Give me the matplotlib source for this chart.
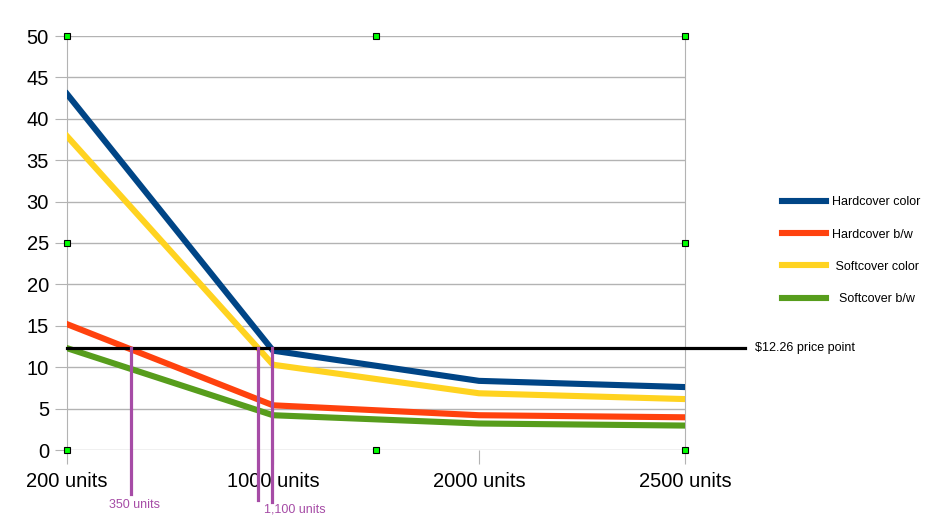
import matplotlib.pyplot as plt
from matplotlib.lines import Line2D

plt.rcParams['font.family'] = ['Liberation Sans', 'DejaVu Sans']

categories = ['200 units', '1000 units', '2000 units', '2500 units']
hardcover_color = [43.0, 12.0, 8.35, 7.6]
hardcover_bw = [15.2, 5.4, 4.2, 3.95]
softcover_color = [37.9, 10.3, 6.85, 6.15]
softcover_bw = [12.3, 4.2, 3.2, 2.95]
price_point = 12.26
price_label = '$12.26 price point'
# break-even marks (category positions) and their labels
marks = [0.31, 0.927, 0.995]
mark_labels = ['350 units', '1,100 units']

series = [
    ('Hardcover color', hardcover_color, '#004586'),
    ('Hardcover b/w', hardcover_bw, '#ff420e'),
    (' Softcover color', softcover_color, '#ffd320'),
    ('  Softcover b/w', softcover_bw, '#579d1c'),
]

fig = plt.figure(figsize=(9.39, 5.17), dpi=100)
ax = fig.add_axes([67 / 939, 67 / 517, 618 / 939, 414 / 517])

x = list(range(len(categories)))
handles = []
for label, vals, col in series:
    h, = ax.plot(x, vals, color=col, lw=4.4, solid_joinstyle='miter', label=label, zorder=3)
    handles.append(h)

ax.set_xlim(0, 3)
ax.set_ylim(0, 50)
ax.set_yticks(range(0, 51, 5))
ax.set_xticks(x)
ax.set_xticklabels(categories)
ax.grid(axis='y', color='#b3b3b3', lw=1)
ax.set_axisbelow(True)
for s in ['top', 'bottom']:
    ax.spines[s].set_visible(False)
for s in ['left', 'right']:
    ax.spines[s].set_color('#b3b3b3')
ax.tick_params(axis='y', length=9, color='#b3b3b3', labelsize=14.5, pad=4)
ax.tick_params(axis='x', length=10, color='#b3b3b3', labelsize=14.5, pad=6)
ax.tick_params(right=False)

# price point line, running past the plot area
trans = ax.get_yaxis_transform()
ax.add_line(Line2D([0, 678 / 618], [price_point, price_point], transform=trans,
                   color='black', lw=2.3, clip_on=False, zorder=4))
ax.text(688 / 618, price_point, price_label, transform=trans, fontsize=9,
        va='center', ha='left')

# purple break-even lines
purple = '#a64ca6'
ends = [-5.3, -6.0, -6.3]
for m, e in zip(marks, ends):
    ax.add_line(Line2D([m, m], [price_point, e], color=purple, lw=2.3,
                       clip_on=False, zorder=5))
ax.text(marks[0] + 0.02, -6.7, mark_labels[0], color=purple, fontsize=9,
        ha='center', va='center', clip_on=False)
ax.text(marks[2] + 0.11, -7.2, mark_labels[1], color=purple, fontsize=9,
        ha='center', va='center', clip_on=False)

# selection handles
for hx, hy in [(0, 0), (0.5, 0), (1, 0), (0, 0.5), (1, 0.5), (0, 1), (0.5, 1), (1, 1)]:
    ax.plot(hx, hy, 's', ms=5, mfc='#00ff00', mec='black', mew=0.8,
            transform=ax.transAxes, clip_on=False, zorder=6)

ax.legend(handles=handles, loc='upper left', bbox_to_anchor=(710 / 618, 0.625),
          frameon=False, fontsize=9, handlelength=3.5, handletextpad=0.5,
          labelspacing=1.62, borderaxespad=0)

fig.savefig('out.png', dpi=100)
